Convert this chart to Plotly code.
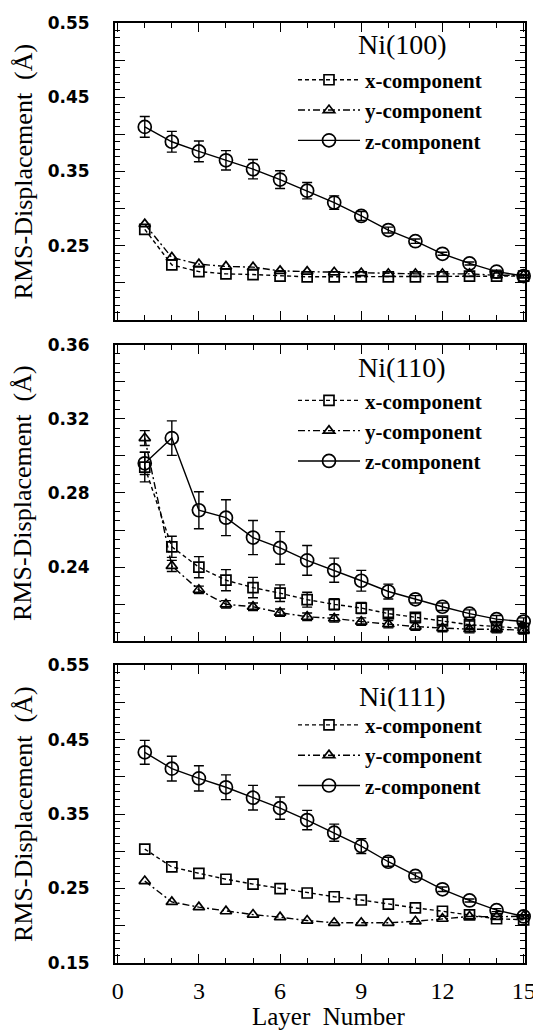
import plotly.graph_objects as go
from plotly.subplots import make_subplots

layers = list(range(1, 16))

# Ni(100)
ni100_x = [0.272, 0.224, 0.215, 0.212, 0.211, 0.209, 0.208, 0.208, 0.208, 0.208, 0.208, 0.208, 0.209, 0.209, 0.209]
ni100_y = [0.279, 0.234, 0.225, 0.222, 0.221, 0.216, 0.215, 0.214, 0.213, 0.212, 0.212, 0.212, 0.212, 0.210, 0.210]
ni100_z = [0.410, 0.390, 0.377, 0.365, 0.353, 0.339, 0.324, 0.308, 0.290, 0.271, 0.256, 0.239, 0.226, 0.215, 0.209]
ni100_z_err = [0.014, 0.014, 0.014, 0.013, 0.013, 0.012, 0.011, 0.009, 0.006, 0.004, 0.003, 0.002, 0.002, 0.002, 0.002]

# Ni(110)
ni110_x = [0.294, 0.251, 0.240, 0.233, 0.229, 0.226, 0.2225, 0.220, 0.218, 0.215, 0.213, 0.211, 0.209, 0.208, 0.207]
ni110_x_err = [0.008, 0.0057, 0.0057, 0.0057, 0.0055, 0.0045, 0.004, 0.003, 0.003, 0.002, 0.002, 0.002, 0.002, 0.002, 0.002]
ni110_y = [0.3096, 0.2407, 0.2278, 0.220, 0.2187, 0.2155, 0.2133, 0.2124, 0.2107, 0.2093, 0.208, 0.2072, 0.2066, 0.2066, 0.206]
ni110_y_err = [0.004, 0.003, 0.002, 0.002, 0.002, 0.002, 0.002, 0.002, 0.002, 0.002, 0.002, 0.002, 0.002, 0.002, 0.002]
ni110_z = [0.296, 0.3096, 0.2707, 0.2667, 0.256, 0.2504, 0.2437, 0.2384, 0.2327, 0.2269, 0.2227, 0.2187, 0.215, 0.212, 0.2107]
ni110_z_err = [0.006, 0.0093, 0.010, 0.0097, 0.0092, 0.0088, 0.008, 0.0065, 0.0056, 0.004, 0.002, 0.002, 0.002, 0.002, 0.002]

# Ni(111)
ni111_x = [0.303, 0.279, 0.2705, 0.2625, 0.256, 0.250, 0.244, 0.239, 0.2346, 0.229, 0.224, 0.2195, 0.2147, 0.2094, 0.208]
ni111_y = [0.260, 0.232, 0.225, 0.2195, 0.215, 0.2115, 0.207, 0.204, 0.204, 0.204, 0.206, 0.2094, 0.2125, 0.212, 0.213]
ni111_z = [0.433, 0.411, 0.398, 0.386, 0.372, 0.358, 0.342, 0.325, 0.307, 0.286, 0.267, 0.249, 0.234, 0.221, 0.2125]
ni111_z_err = [0.016, 0.0166, 0.017, 0.0166, 0.0166, 0.015, 0.013, 0.0115, 0.010, 0.006, 0.004, 0.003, 0.002, 0.002, 0.002]

panel_names = ["Ni(100)", "Ni(110)", "Ni(111)"]
series_names = ["x-component", "y-component", "z-component"]
x_ticks = [0, 3, 6, 9, 12, 15]

y_ticks_a = [0.15, 0.20, 0.25, 0.30, 0.35, 0.40, 0.45, 0.50, 0.55]
y_text_top = ["", "", "0.25", "", "0.35", "", "0.45", "", "0.55"]
y_text_bot = ["0.15", "", "0.25", "", "0.35", "", "0.45", "", "0.55"]
y_ticks_b = [0.20, 0.22, 0.24, 0.26, 0.28, 0.30, 0.32, 0.34, 0.36]
y_text_mid = ["", "", "0.24", "", "0.28", "", "0.32", "", "0.36"]

panels = [
    (ni100_x, None, ni100_y, None, ni100_z, ni100_z_err),
    (ni110_x, ni110_x_err, ni110_y, ni110_y_err, ni110_z, ni110_z_err),
    (ni111_x, None, ni111_y, None, ni111_z, ni111_z_err),
]

fig = make_subplots(rows=3, cols=1)

styles = [
    dict(symbol="square-open", size=10, dash="4px,3px"),
    dict(symbol="triangle-up-open", size=10, dash="7px,3px,2px,3px"),
    dict(symbol="circle-open", size=13, dash="solid"),
]
legend_ids = ["legend", "legend2", "legend3"]

for r, p in enumerate(panels):
    vals = [(p[0], p[1]), (p[2], p[3]), (p[4], p[5])]
    for k, (v, e) in enumerate(vals):
        st = styles[k]
        err = dict(type="data", array=e, visible=True, color="black",
                   thickness=1.4, width=5) if e is not None else dict(visible=False)
        fig.add_trace(go.Scatter(
            x=layers, y=v, mode="lines+markers", name=series_names[k],
            line=dict(color="black", width=1.4, dash=st["dash"]),
            marker=dict(symbol=st["symbol"], size=st["size"], color="black",
                        line=dict(color="black", width=1.7)),
            error_y=err, legend=legend_ids[r], cliponaxis=False,
        ), row=r + 1, col=1)

# page body has an 8px margin: figure starts at screen (8, 8)
OFF = 8
W, HF = 541 - OFF, 1032 - OFF
L, R, T, B = 115, 525, 13, 963  # plot area in screen pixels
H = float(B - T)

doms = [[(B - 313) / H, 1.0], [(B - 638) / H, (B - 338) / H], [0.0, (B - 662) / H]]

axis_common = dict(showline=True, linecolor="black", linewidth=2, mirror="allticks",
                   ticks="inside", tickcolor="black", showgrid=False, zeroline=False)

for r in range(3):
    xa = "xaxis" if r == 0 else f"xaxis{r + 1}"
    ya = "yaxis" if r == 0 else f"yaxis{r + 1}"
    fig.layout[xa].update(
        range=[-0.1, 15.05], tickvals=x_ticks, ticklen=9, tickwidth=1.4,
        minor=dict(dtick=1, tick0=0, ticklen=5, tickwidth=1.2, ticks="inside", tickcolor="black"),
        showticklabels=(r == 2), ticklabeloverflow="allow",
        tickfont=dict(family="Liberation Serif", size=24, color="black"),
        ticklabelstandoff=5,
        **axis_common)
    if r == 1:
        yrng, tv, tt, mdt = [0.20, 0.36], y_ticks_b, y_text_mid, 0.005
    else:
        yrng, tv = [0.15, 0.55], y_ticks_a
        tt = y_text_top if r == 0 else y_text_bot
        mdt = 0.01
    fig.layout[ya].update(
        domain=doms[r], range=yrng, tickvals=tv, ticktext=tt, ticklen=10, tickwidth=1.4,
        minor=dict(dtick=mdt, tick0=0.15, ticklen=5, tickwidth=1.2, ticks="inside", tickcolor="black"),
        tickfont=dict(family="DejaVu Sans", size=17, color="black", weight="bold"),
        ticklabelstandoff=20,
        **axis_common)

legend_tops = [50, 374, 702]
leg = dict(font=dict(family="Liberation Serif", size=21, color="black", weight="bold"),
           bgcolor="rgba(0,0,0,0)", borderwidth=0, xanchor="left", yanchor="top",
           itemwidth=62, tracegroupgap=0, traceorder="normal")
lx = (293 - L) / 410.0
fig.update_layout(
    legend=dict(x=lx, y=1 - (legend_tops[0] - T) / H, **leg),
    legend2=dict(x=lx, y=1 - (legend_tops[1] - T) / H, **leg),
    legend3=dict(x=lx, y=1 - (legend_tops[2] - T) / H, **leg),
)

title_y = [(313 - 45) / 300 + 0.033, (638 - 368) / 300 + 0.023, (963 - 697) / 301 + 0.01]
for r in range(3):
    xr = "x domain" if r == 0 else f"x{r + 1} domain"
    yr = "y domain" if r == 0 else f"y{r + 1} domain"
    fig.add_annotation(text=panel_names[r], xref=xr, yref=yr, x=0.70, y=title_y[r],
                       showarrow=False, xanchor="center", yanchor="middle",
                       font=dict(family="Liberation Serif", size=28, color="black"))
    fig.add_annotation(text="RMS-Displacement  (Å)", xref="paper", yref=yr, x=(23 - L) / 410.0,
                       y=0.5, textangle=-90, showarrow=False, xanchor="center", yanchor="middle",
                       font=dict(family="Liberation Serif", size=26, color="black"))

fig.add_annotation(text="Layer  Number", xref="paper", yref="paper", x=(328 - L) / 410.0,
                   y=-(1017 - B) / H, showarrow=False, xanchor="center", yanchor="middle",
                   font=dict(family="Liberation Serif", size=25, color="black"))

fig.update_layout(
    width=W, height=HF,
    margin=dict(l=L - OFF, r=W - (R - OFF), t=T - OFF, b=HF - (B - OFF)),
    paper_bgcolor="white", plot_bgcolor="white",
    showlegend=True,
)

fig.write_html("out.html")
